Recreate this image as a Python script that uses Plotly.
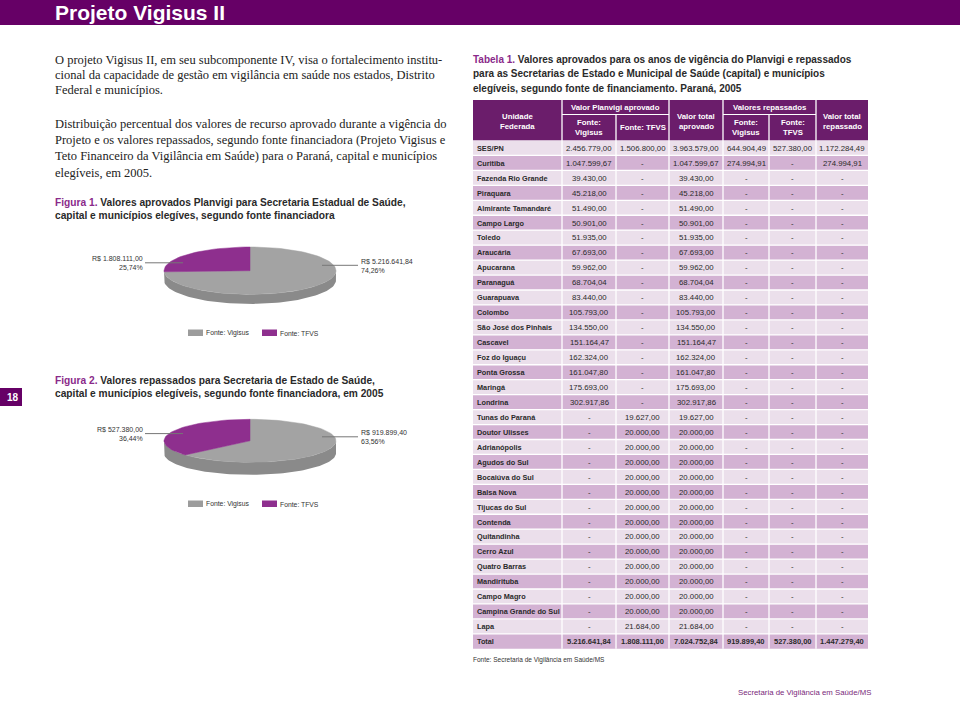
import math
import plotly.graph_objects as go

# ---------------- data ----------------
page_title = "Projeto Vigisus II"
page_number = "18"
footer_text = "Secretaria de Vigilância em Saúde/MS"

para1 = [
    "O projeto Vigisus II, em seu subcomponente IV, visa o fortalecimento institu-",
    "cional da capacidade de gestão em vigilância em saúde nos estados, Distrito",
    "Federal e municípios.",
]
para2 = [
    "Distribuição percentual dos valores de recurso aprovado durante a vigência do",
    "Projeto e os valores repassados, segundo fonte financiadora (Projeto Vigisus e",
    "Teto Financeiro da Vigilância em Saúde) para o Paraná, capital e municípios",
    "elegíveis, em 2005.",
]
fig1_title = ["Valores aprovados Planvigi para Secretaria Estadual de Saúde,",
              "capital e municípios elegíves, segundo fonte financiadora"]
fig2_title = ["Valores repassados para Secretaria de Estado de Saúde,",
              "capital e municípios elegíveis, segundo fonte financiadora, em 2005"]
tab_title = ["Valores aprovados para os anos de vigência do Planvigi e repassados",
             "para as Secretarias de Estado e Municipal de Saúde (capital) e municípios",
             "elegíveis, segundo fonte de financiamento. Paraná, 2005"]
tab_source = "Fonte: Secretaria de Vigilância em Saúde/MS"

pie_labels = ["Fonte: Vigisus", "Fonte: TFVS"]
fig1_values = [5216641.84, 1808111.00]
fig2_values = [919899.40, 527380.00]

units = ["SES/PN", "Curitiba", "Fazenda Rio Grande", "Piraquara", "Almirante Tamandaré",
         "Campo Largo", "Toledo", "Araucária", "Apucarana", "Paranaguá", "Guarapuava",
         "Colombo", "São José dos Pinhais", "Cascavel", "Foz do Iguaçu", "Ponta Grossa",
         "Maringá", "Londrina", "Tunas do Paraná", "Doutor Ulisses", "Adrianópolis",
         "Agudos do Sul", "Bocaiúva do Sul", "Balsa Nova", "Tijucas do Sul", "Contenda",
         "Quitandinha", "Cerro Azul", "Quatro Barras", "Mandirituba", "Campo Magro",
         "Campina Grande do Sul", "Lapa", "Total"]
vig_aprov = [2456779.00, 1047599.67, 39430.00, 45218.00, 51490.00, 50901.00, 51935.00,
             67693.00, 59962.00, 68704.04, 83440.00, 105793.00, 134550.00, 151164.47,
             162324.00, 161047.80, 175693.00, 302917.86] + [None] * 15 + [5216641.84]
tfvs_aprov = [1506800.00] + [None] * 17 + [19627.00] + [20000.00] * 13 + [21684.00] + [1808111.00]
total_aprov = [3963579.00, 1047599.67, 39430.00, 45218.00, 51490.00, 50901.00, 51935.00,
               67693.00, 59962.00, 68704.04, 83440.00, 105793.00, 134550.00, 151164.47,
               162324.00, 161047.80, 175693.00, 302917.86, 19627.00] + [20000.00] * 13 + [21684.00, 7024752.84]
vig_rep = [644904.49, 274994.91] + [None] * 31 + [919899.40]
tfvs_rep = [527380.00] + [None] * 32 + [527380.00]
total_rep = [1172284.49, 274994.91] + [None] * 31 + [1447279.40]

# ---------------- style ----------------
SERIF = "Liberation Serif, Times New Roman, serif"
COND = "Liberation Sans, Arial, sans-serif"
PURPLE = "#660066"
HEAD = "#6b1d6b"
SLICE_PURPLE = "#8e2f8e"
GRAY_TOP = "#a3a3a3"
GRAY_SIDE = "#8a8a8a"
ROW_LIGHT = "#ebdfeb"
ROW_DARK = "#d3b2d3"
TXT = "#2a2a2a"


def br(v):
    if v is None:
        return "-"
    s = f"{v:,.2f}"
    return s.replace(",", "X").replace(".", ",").replace("X", ".")


def pct(v, tot):
    return f"{100 * v / tot:.2f}".replace(".", ",") + "%"


fig = go.Figure()
shapes = []
ann = []


def txt(x, y, s, size, color=TXT, family=COND, xanchor="left"):
    ann.append(dict(x=x, y=y, xref="x", yref="y", text=s, showarrow=False,
                    xanchor=xanchor, yanchor="middle", borderpad=0,
                    font=dict(size=size, color=color, family=family)))


def rect(x0, y0, x1, y1, color):
    shapes.append(dict(type="rect", xref="x", yref="y", x0=x0, y0=y0, x1=x1, y1=y1,
                       fillcolor=color, line=dict(width=0), layer="below"))


def line(x0, y0, x1, y1, color, w=1):
    shapes.append(dict(type="line", xref="x", yref="y", x0=x0, y0=y0, x1=x1, y1=y1,
                       line=dict(color=color, width=w)))


# ---------------- page frame ----------------
rect(0, 0, 960, 25, PURPLE)
txt(54, 12.5, "<b>" + page_title + "</b>", 21, "white")
rect(0, 388, 22, 406, PURPLE)
txt(20, 397, "<b>" + page_number + "</b>", 10, "white", xanchor="right")
txt(737, 692, footer_text, 7.8, "#7a2a7a")

for i, s in enumerate(para1):
    txt(54, 60 + 15.2 * i, s, 12.5, "#222", SERIF)
for i, s in enumerate(para2):
    txt(54, 124 + 16.2 * i, s, 12.5, "#222", SERIF)

FT = 10.2
txt(54, 202, "<span style='color:#8a2a8a'><b>Figura 1.</b></span> <b>" + fig1_title[0] + "</b>", FT)
txt(54, 215.5, "<b>" + fig1_title[1] + "</b>", FT)
txt(54, 380, "<span style='color:#8a2a8a'><b>Figura 2.</b></span> <b>" + fig2_title[0] + "</b>", FT)
txt(54, 393.5, "<b>" + fig2_title[1] + "</b>", FT)


# ---------------- pseudo-3D pies ----------------
def draw_pie(values, cx, cy, rx, ry, depth, llab, rlab, legend_y):
    tot = sum(values)
    ts = [math.pi / 2 + math.pi * k / 80 for k in range(81)]
    xs = [cx + rx * math.sin(t) for t in ts]
    ys = [cy - ry * math.cos(t) for t in ts]
    sx = xs + xs[::-1] + [xs[0]]
    sy = ys + [y + depth for y in ys[::-1]] + [ys[0]]
    fig.add_trace(go.Scatter(x=sx, y=sy, mode="lines", fill="toself", fillcolor=GRAY_SIDE,
                             line=dict(width=0, color=GRAY_SIDE), hoverinfo="skip", showlegend=False))
    colors = [GRAY_TOP, SLICE_PURPLE]
    a0 = 0.0
    for v, c in zip(values, colors):
        a1 = a0 + 2 * math.pi * v / tot
        n = max(4, int(120 * (a1 - a0) / (2 * math.pi)))
        px = [cx] + [cx + rx * math.sin(a0 + (a1 - a0) * k / n) for k in range(n + 1)] + [cx]
        py = [cy] + [cy - ry * math.cos(a0 + (a1 - a0) * k / n) for k in range(n + 1)] + [cy]
        fig.add_trace(go.Scatter(x=px, y=py, mode="lines", fill="toself", fillcolor=c,
                                 line=dict(width=0.5, color=c), hoverinfo="skip", showlegend=False))
        a0 = a1
    line(145, llab + 4.3, 183, llab + 4.3, "#777", 1)
    txt(144, llab, "R$ " + br(values[1]), 7, "#333", xanchor="right")
    txt(144, llab + 8.7, pct(values[1], tot), 7, "#333", xanchor="right")
    line(322, rlab + 4.3, 358, rlab + 4.3, "#777", 1)
    txt(360, rlab, "R$ " + br(values[0]), 7, "#333")
    txt(360, rlab + 9, pct(values[0], tot), 7, "#333")
    rect(188, legend_y - 3.5, 203, legend_y + 3, "#9c9c9c")
    txt(204.5, legend_y, pie_labels[0], 6.8, "#333")
    rect(262, legend_y - 3.5, 277, legend_y + 3, SLICE_PURPLE)
    txt(278.5, legend_y, pie_labels[1], 6.8, "#333")


draw_pie(fig1_values, 250, 270.7, 86, 23.7, 9.5, 258.5, 261, 333)
draw_pie(fig2_values, 250, 440.8, 86, 21.5, 12.5, 429.3, 432.5, 504)

# ---------------- table ----------------
TT = 10
txt(472, 59, "<span style='color:#8a2a8a'><b>Tabela 1.</b></span> <b>" + tab_title[0] + "</b>", TT)
txt(472, 73.5, "<b>" + tab_title[1] + "</b>", TT)
txt(472, 88, "<b>" + tab_title[2] + "</b>", TT)

cols = [473, 562, 616, 669, 723, 769, 816, 868]
H0, HM, H1 = 100, 114.5, 140.5
rect(cols[0], H0, cols[-1], H1, HEAD)
W = "white"
HS = 7.8
txt(517.5, 116, "<b>Unidade</b>", HS, W, xanchor="center")
txt(517.5, 126.5, "<b>Federada</b>", HS, W, xanchor="center")
txt(615.5, 107, "<b>Valor Planvigi aprovado</b>", HS, W, xanchor="center")
txt(589, 122, "<b>Fonte:</b>", HS, W, xanchor="center")
txt(589, 132.5, "<b>Vigisus</b>", HS, W, xanchor="center")
txt(642.5, 127.5, "<b>Fonte: TFVS</b>", HS, W, xanchor="center")
txt(696, 116, "<b>Valor total</b>", HS, W, xanchor="center")
txt(696, 126.5, "<b>aprovado</b>", HS, W, xanchor="center")
txt(769.5, 107, "<b>Valores repassados</b>", HS, W, xanchor="center")
txt(746, 122, "<b>Fonte:</b>", HS, W, xanchor="center")
txt(746, 132.5, "<b>Vigisus</b>", HS, W, xanchor="center")
txt(792.5, 122, "<b>Fonte:</b>", HS, W, xanchor="center")
txt(792.5, 132.5, "<b>TFVS</b>", HS, W, xanchor="center")
txt(842, 116, "<b>Valor total</b>", HS, W, xanchor="center")
txt(842, 126.5, "<b>repassado</b>", HS, W, xanchor="center")

pitch = 14.95
cols_data = [vig_aprov, tfvs_aprov, total_aprov, vig_rep, tfvs_rep, total_rep]
nrows = len(units)
for i in range(nrows):
    top = H1 + pitch * i
    rect(cols[0], top, cols[-1], top + pitch, ROW_DARK if i % 2 else ROW_LIGHT)
    yc = top + pitch / 2 + 0.3
    bold = i == nrows - 1
    txt(476, yc, "<b>" + units[i] + "</b>", 7.3, TXT)
    for j, col in enumerate(cols_data):
        s = br(col[i])
        size = 7.8
        if bold:
            s = "<b>" + s + "</b>"
            size = 7.5
        txt((cols[j + 1] + cols[j + 2]) / 2, yc, s, size, TXT, xanchor="center")
line(cols[1], HM, cols[3], HM, "white", 1)
line(cols[4], HM, cols[6], HM, "white", 1)
for k in range(1, 7):
    y0 = HM if k in (2, 5) else H0
    line(cols[k], y0, cols[k], H1 + pitch * nrows, "white", 1.3)
for i in range(1, nrows):
    y = H1 + pitch * i
    line(cols[0], y, cols[-1], y, "white", 1.3)
txt(472, 660, tab_source, 6.5, "#333")

fig.update_layout(
    width=960, height=701,
    margin=dict(l=0, r=0, t=0, b=0),
    paper_bgcolor="white", plot_bgcolor="white",
    xaxis=dict(range=[0, 960], visible=False, fixedrange=True),
    yaxis=dict(range=[701, 0], visible=False, fixedrange=True),
    shapes=shapes, annotations=ann, showlegend=False,
)
fig.write_html("out.html", config={"displayModeBar": False},
               post_script="document.body.style.margin='0';document.body.style.padding='0';")
